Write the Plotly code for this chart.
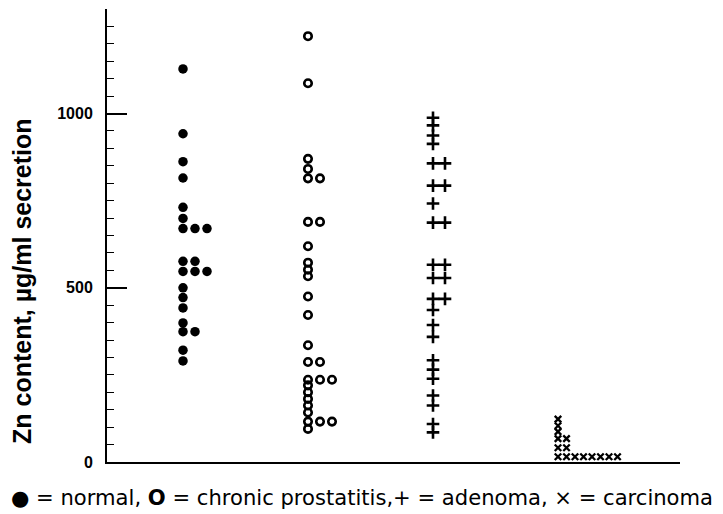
import plotly.graph_objects as go
from collections import Counter

# ---- data (Zn content, µg/ml secretion) ----
groups = ["normal", "chronic prostatitis", "adenoma", "carcinoma"]
normal = [1128, 942, 862, 815, 731, 699, 670, 670, 670, 576, 576, 547, 547, 547,
          500, 472, 442, 399, 374, 374, 321, 290]
chronic = [1222, 1087, 870, 841, 814, 814, 689, 689, 619, 572, 552, 533, 475, 422,
           335, 287, 287, 236, 236, 236, 220, 200, 181, 162, 142, 116, 116, 116, 95]
adenoma = [988, 966, 937, 913, 857, 857, 793, 793, 742, 687, 687, 566, 566, 528, 528,
           468, 468, 436, 393, 359, 292, 265, 239, 191, 162, 109, 85]
carcinoma = [123, 104, 87, 67, 67, 41, 41, 15, 15, 15, 15, 15, 15, 15, 15]
y_ticks = [0, 500, 1000]


def dot_x(values, center, step):
    seen = Counter()
    xs = []
    for v in values:
        xs.append(center + seen[v] * step)
        seen[v] += 1
    return xs


fig = go.Figure()
fig.add_trace(go.Scatter(x=dot_x(normal, 1, 0.096), y=normal, mode="markers",
                         marker=dict(symbol="circle", size=9.5, color="black"),
                         name=groups[0]))
fig.add_trace(go.Scatter(x=dot_x(chronic, 2, 0.096), y=chronic, mode="markers",
                         marker=dict(symbol="circle-open", size=7.5, color="black",
                                     line=dict(width=2.6, color="black")),
                         name=groups[1]))
fig.add_trace(go.Scatter(x=dot_x(adenoma, 3, 0.096), y=adenoma, mode="markers",
                         marker=dict(symbol="cross-thin", size=9, color="black",
                                     line=dict(width=2.6, color="black")),
                         name=groups[2]))
fig.add_trace(go.Scatter(x=dot_x(carcinoma, 4, 0.068), y=carcinoma, mode="markers",
                         marker=dict(symbol="x-thin", size=6.5, color="black",
                                     line=dict(width=2.3, color="black")),
                         name=groups[3]))

fig.update_layout(
    width=723, height=514,
    margin=dict(l=99, r=51, t=1, b=60),
    paper_bgcolor="white", plot_bgcolor="white",
    showlegend=False,
    xaxis=dict(range=[0.392, 4.976], showline=True, linecolor="black", linewidth=2,
               showgrid=False, zeroline=False, showticklabels=False, ticks=""),
    yaxis=dict(range=[0, 1300], showline=True, linecolor="black", linewidth=2,
               showgrid=False, zeroline=False,
               tickvals=y_ticks, ticktext=[str(t) for t in y_ticks],
               ticks="inside", ticklen=20, tickwidth=1.5, tickcolor="black",
               ticklabelstandoff=9,
               tickfont=dict(family="Liberation Sans", size=16, color="black", weight="bold"),
               minor=dict(ticks="inside", ticklen=7, tickwidth=1.3, tickcolor="black",
                          dtick=50, tick0=0, showgrid=False)),
    annotations=[
        dict(text="Zn content, µg/ml secretion", textangle=-90,
             xref="paper", yref="paper", x=-0.148, y=0.40,
             xanchor="center", yanchor="middle", showarrow=False,
             font=dict(family="Liberation Sans", size=25,
                       color="black", weight="bold")),
        dict(text="● = normal, <b>O</b> = chronic prostatitis,+ = adenoma, × = carcinoma",
             xref="paper", yref="paper", x=0.445, y=-0.078,
             xanchor="center", yanchor="middle", showarrow=False,
             font=dict(family="DejaVu Sans", size=21.1, color="black")),
    ],
)

fig.write_html("out.html")
